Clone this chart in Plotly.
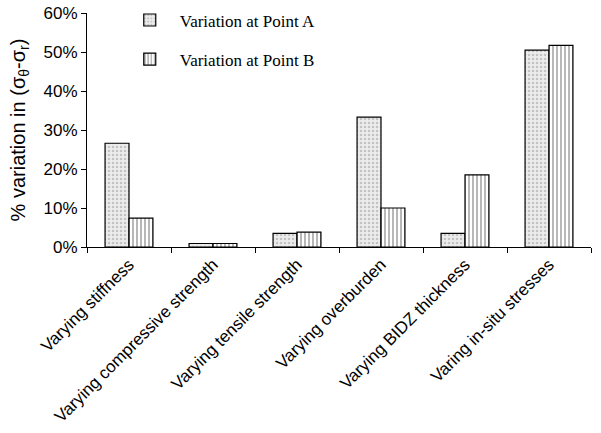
import plotly.graph_objects as go

categories = ["Varying stiffness", "Varying compressive strength", "Varying tensile strength",
              "Varying overburden", "Varying BIDZ thickness", "Varing in-situ stresses"]
point_a = [26.6, 0.9, 3.5, 33.3, 3.5, 50.5]
point_b = [7.4, 0.9, 3.8, 10.0, 18.5, 51.7]
y_ticks = [0, 10, 20, 30, 40, 50, 60]
y_tick_labels = ["0%", "10%", "20%", "30%", "40%", "50%", "60%"]

fig = go.Figure()
fig.add_trace(go.Bar(
    x=categories, y=point_a, name="Variation at Point A", legendgroup="a",
    marker=dict(color="#e6e6e6", line=dict(color="black", width=1.2),
                pattern=dict(shape=".", fgcolor="#9a9a9a", bgcolor="#ececec", size=4, solidity=0.3)),
))
fig.add_trace(go.Bar(
    x=categories, y=point_b, name="Variation at Point B", legendgroup="b",
    marker=dict(color="white", line=dict(color="black", width=1.2),
                pattern=dict(shape="|", fgcolor="#333333", bgcolor="white", size=4, solidity=0.35)),
))

fig.update_layout(
    width=601, height=433,
    margin=dict(l=87, r=10, t=13, b=186, autoexpand=False),
    paper_bgcolor="white", plot_bgcolor="white",
    barmode="group", bargap=0.43, bargroupgap=0,
    font=dict(family="Liberation Sans, Arial", size=16, color="black"),
    legend=dict(x=0.065, y=1.045, xanchor="left", yanchor="top",
                font=dict(family="Liberation Serif, Times New Roman", size=17),
                bgcolor="rgba(0,0,0,0)", tracegroupgap=14, itemwidth=50),
    showlegend=True,
)
fig.update_yaxes(
    range=[0, 60], tickvals=y_ticks, ticktext=y_tick_labels,
    showgrid=False, showline=True, linecolor="black", linewidth=1,
    ticks="outside", ticklen=5, tickcolor="black",
    tickfont=dict(size=17),
    title=dict(text="% variation in (σ<sub>θ</sub>-σ<sub>r</sub>)", font=dict(size=20), standoff=12),
    zeroline=False,
)
fig.update_xaxes(
    showgrid=False, showline=True, linecolor="black", linewidth=1,
    ticks="outside", tickson="boundaries", ticklen=5, tickcolor="black",
    tickangle=-45, tickfont=dict(size=17),
)
fig.write_html("out.html")
